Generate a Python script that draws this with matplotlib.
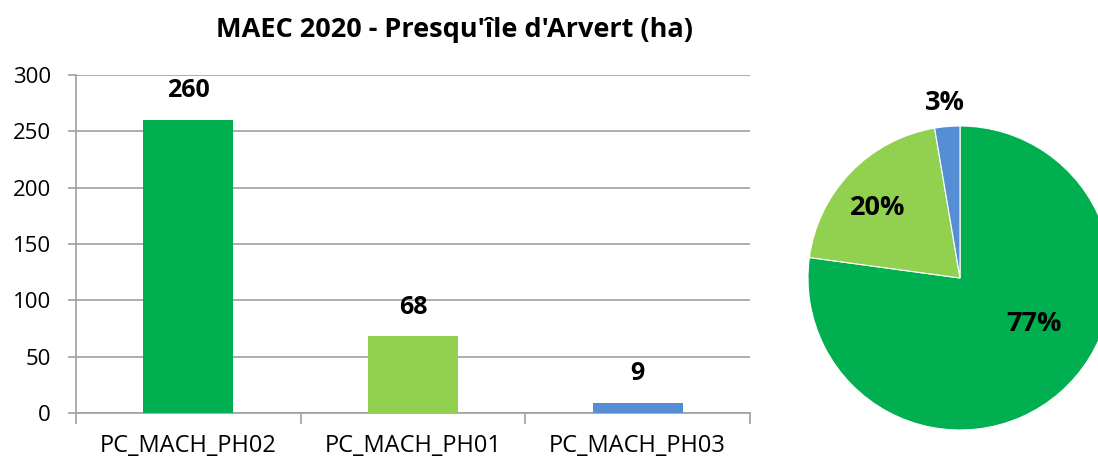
import numpy as np
import matplotlib.pyplot as plt

categories = ['PC_MACH_PH02', 'PC_MACH_PH01', 'PC_MACH_PH03']
surfaces = [260, 68, 9]
colors = ['#00B050', '#92D050', '#558ED5']
yticks = [0, 50, 100, 150, 200, 250, 300]

plt.rcParams['font.family'] = ['Open Sans', 'DejaVu Sans']

W, H = 1098, 461
fig = plt.figure(figsize=(W/100, H/100), dpi=100)

# barres
ax = fig.add_axes([76/W, (H-413)/H, (750-76)/W, (413-75)/H])
x = np.arange(len(categories))
bars = ax.bar(x, surfaces, width=0.4, color=colors, zorder=3)
ax.set_xlim(-0.5, len(categories)-0.5)
ax.set_ylim(0, 300)
ax.set_yticks(yticks)
ax.set_yticklabels([str(v) for v in yticks], fontsize=16)
ax.yaxis.grid(True, color='#a0a0a0', lw=1.2, zorder=0)
ax.set_xticks(np.arange(len(categories)+1)-0.5, minor=False)
ax.set_xticklabels([])
ax.set_xticks(x, minor=True)
ax.set_xticklabels(categories, minor=True, fontsize=17)
ax.tick_params(axis='x', which='minor', length=0, pad=15)
ax.tick_params(axis='x', which='major', length=8, color='#a0a0a0', width=1.2, direction='out')
ax.tick_params(axis='y', length=6, color='#a0a0a0', width=1.2, pad=12)
for s in ['top', 'right']:
    ax.spines[s].set_visible(False)
for s in ['left', 'bottom']:
    ax.spines[s].set_color('#a0a0a0')
    ax.spines[s].set_linewidth(1.2)
for b, v in zip(bars, surfaces):
    ax.text(b.get_x()+b.get_width()/2, v+26, str(v), ha='center', va='center',
            fontsize=18, fontweight='bold')

fig.text(455/W, 1-30/H, "MAEC 2020 - Presqu'île d'Arvert (ha)", ha='center', va='center',
         fontsize=19.5, fontweight='bold')

# camembert
cx, cy, r = 960, 278, 152
pax = fig.add_axes([(cx-r)/W, (H-cy-r)/H, 2*r/W, 2*r/H])
pax.pie(surfaces, colors=colors, startangle=90, counterclock=False,
        wedgeprops=dict(linewidth=0.8, edgecolor='white'))
pax.set_xlim(-1, 1)
pax.set_ylim(-1, 1)
total = sum(surfaces)
pct = [f"{round(100*v/total)}%" for v in surfaces]
label_pos = [(0.49, -0.30), (-0.54, 0.46), (-0.10, 1.15)]
for p, (lx, ly) in zip(pct, label_pos):
    pax.text(lx, ly, p, ha='center', va='center', fontsize=19.5, fontweight='bold')

fig.savefig('out.png', dpi=100)
